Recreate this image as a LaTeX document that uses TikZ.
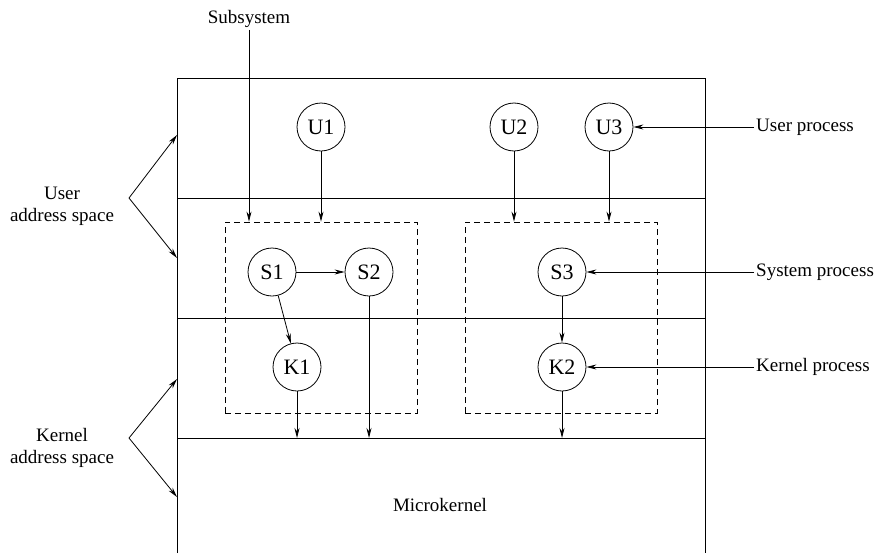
\documentclass[tikz,border=0pt]{standalone}
\usepackage{fontspec}
\setmainfont{Liberation Serif}
\usetikzlibrary{arrows.meta}
\begin{document}
\begin{tikzpicture}[x=1pt,y=-1pt,
  proc/.style={draw,circle,minimum size=48pt,inner sep=0pt,line width=0.8pt,font=\fontsize{22}{24}\selectfont},
  subsys/.style={draw,dash pattern=on 6pt off 4pt,line width=0.8pt,minimum width=192pt,minimum height=191pt,inner sep=0pt},
  lbl/.style={font=\fontsize{19}{22}\selectfont,align=center,inner sep=2pt},
  arr/.style={-{Stealth[length=10pt,width=5pt]},line width=0.8pt}]
\useasboundingbox (0,0) rectangle (880,554);
\coordinate (TL) at (177,78); \coordinate (TR) at (705,78);
\coordinate (BL) at (177,553); \coordinate (BR) at (705,553);
\coordinate (L1) at (177,198); \coordinate (L2) at (177,318); \coordinate (L3) at (177,438);
\draw[line width=1pt] (BL)--(TL)--(TR)--(BR);
\draw[line width=1pt] (L1)--(L1-|TR) (L2)--(L2-|TR) (L3)--(L3-|TR);
% subsystems
\node[subsys] (B1) at (321,317.5) {}; \node[subsys] (B2) at (561,317.5) {};
% processes
\node[proc] (U1) at (321,127) {U1}; \node[proc] (U2) at (514,127) {U2}; \node[proc] (U3) at (609,127) {U3};
\node[proc] (S1) at (272,272) {S1}; \node[proc] (S2) at (369,272) {S2}; \node[proc] (S3) at (562,272) {S3};
\node[proc] (K1) at (297,367) {K1}; \node[proc] (K2) at (562,367) {K2};
\draw[arr] (U1)--(U1|-B1.north); \draw[arr] (U2)--(U2|-B2.north); \draw[arr] (U3)--(U3|-B2.north);
\draw[arr] (S1)--(S2); \draw[arr] (S1)--(K1); \draw[arr] (S3)--(K2);
\draw[arr] (S2)--(S2|-L3); \draw[arr] (K1)--(K1|-L3); \draw[arr] (K2)--(K2|-L3);
% labels
\node[lbl] (sub) at (249,19) {Subsystem}; \draw[arr] (sub.south)--(sub|-B1.north);
\node[lbl,anchor=west] (up) at (754,127) {User process}; \draw[arr] (up.west)--(U3);
\node[lbl,anchor=west] (sp) at (754,272) {System process}; \draw[arr] (sp.west)--(S3);
\node[lbl,anchor=west] (kp) at (754,367) {Kernel process}; \draw[arr] (kp.west)--(K2);
\node[lbl] (mk) at (440,505) {Microkernel};
\node[lbl] (uas) at (62,206) {User\\address space};
\coordinate (ua) at (129,198); \coordinate (ua1) at (177,135); \coordinate (ua2) at (177,258);
\draw[arr] (ua)--(ua1); \draw[arr] (ua)--(ua2);
\node[lbl] (kas) at (62,448) {Kernel\\address space};
\coordinate (ka) at (129,438); \coordinate (ka1) at (177,379); \coordinate (ka2) at (177,497);
\draw[arr] (ka)--(ka1); \draw[arr] (ka)--(ka2);
\end{tikzpicture}
\end{document}
